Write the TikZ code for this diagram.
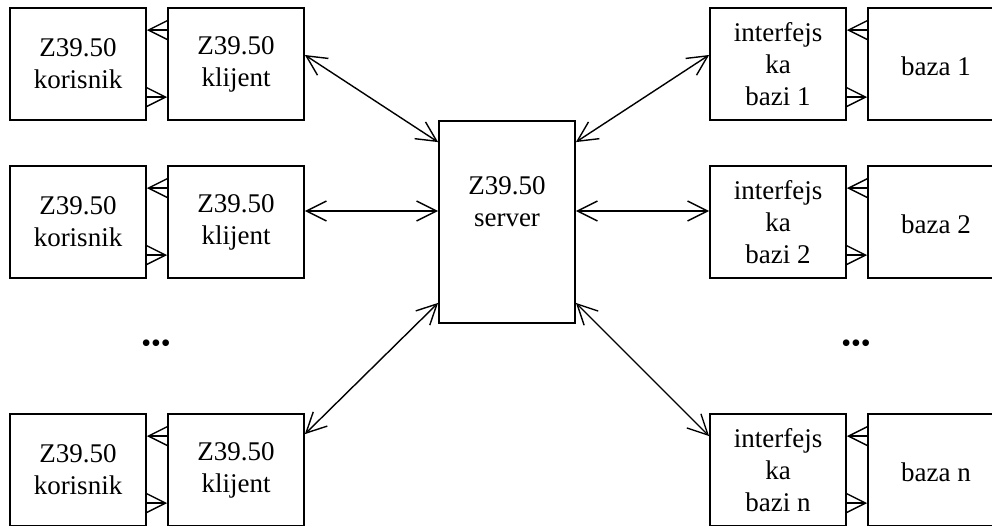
\documentclass[tikz,border=0pt]{standalone}
\usepackage{fontspec}
\setmainfont{Liberation Serif}
\usetikzlibrary{arrows.meta}
\begin{document}
\begin{tikzpicture}[x=1pt,y=-1pt,
  box/.style={draw, line width=1.8pt, minimum width=136pt, minimum height=112pt, inner sep=0pt, align=center, font=\fontsize{27}{32}\selectfont, execute at begin node={\rule{0pt}{24pt}}},
  txt/.style={align=center, inner sep=0pt, font=\fontsize{27}{32}\selectfont},
  arr/.style={line width=1.4pt, -{Straight Barb[length=20pt,width=20pt,line width=1.4pt]}},
  darr/.style={line width=1.4pt, {Straight Barb[length=20pt,width=20pt,line width=1.4pt]}-{Straight Barb[length=20pt,width=20pt,line width=1.4pt]}},
  dots/.style={inner sep=0pt, font=\fontsize{28}{28}\selectfont}
]
\useasboundingbox (0,0) rectangle (992,525);
\clip (0,0) rectangle (992,525);

% left column
\node[box] (kor1) at (78,64)  {Z39.50\\korisnik};
\node[box] (kli1) at (236,64) {Z39.50\\klijent};
\node[box] (kor2) at (78,222)  {Z39.50\\korisnik};
\node[box] (kli2) at (236,222) {Z39.50\\klijent};
\node[box] (kor3) at (78,470)  {Z39.50\\korisnik};
\node[box] (kli3) at (236,470) {Z39.50\\klijent};

% server
\node[box, minimum height=202pt, execute at begin node={}] (server) at (507,222) {};
\node[txt] (stext) at (507,202) {Z39.50\\server};

% right column
\node[box] (int1) at (778,64)  {interfejs\\ka\\bazi 1};
\node[box] (baza1) at (936,64) {baza 1};
\node[box] (int2) at (778,222)  {interfejs\\ka\\bazi 2};
\node[box] (baza2) at (936,222) {baza 2};
\node[box] (intn) at (778,470)  {interfejs\\ka\\bazi n};
\node[box] (bazan) at (936,470) {baza n};

% dots
\node[dots] (dl) at (156,346) {•••};
\node[dots] (dr) at (856,346) {•••};

% short arrows
\foreach \r in {1,2,3}{
  \draw[arr] ([yshift=-23pt]kli\r.north west) -- ([yshift=-23pt]kor\r.north east);
  \draw[arr] ([yshift=-90pt]kor\r.north east) -- ([yshift=-90pt]kli\r.north west);
}
\foreach \r in {1,2,n}{
  \draw[arr] ([yshift=-23pt]baza\r.north west) -- ([yshift=-23pt]int\r.north east);
  \draw[arr] ([yshift=-90pt]int\r.north east) -- ([yshift=-90pt]baza\r.north west);
}

% long arrows
\draw[darr] ([yshift=9pt]kli1.east) -- ([yshift=-22pt]server.north west);
\draw[darr] ([yshift=11pt]kli2.east) -- ([yshift=11pt]server.west);
\draw[darr] ([yshift=-21pt]kli3.north east) -- ([yshift=21pt]server.south west);
\draw[darr] ([yshift=-22pt]server.north east) -- ([yshift=9pt]int1.west);
\draw[darr] ([yshift=11pt]server.east) -- ([yshift=11pt]int2.west);
\draw[darr] ([yshift=21pt]server.south east) -- ([yshift=-23pt]intn.north west);
\end{tikzpicture}
\end{document}
